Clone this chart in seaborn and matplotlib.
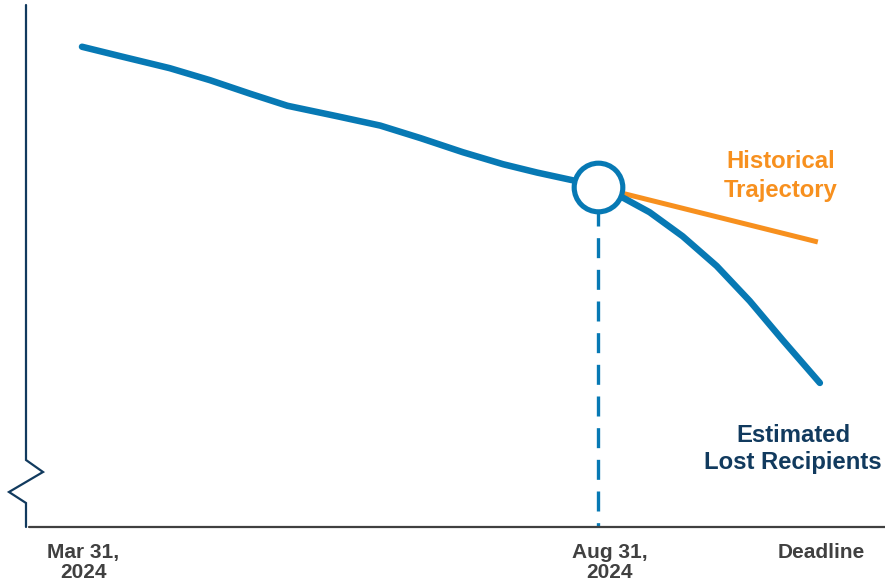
import numpy as np
import pandas as pd
import matplotlib
matplotlib.use("Agg")
import matplotlib.pyplot as plt
import seaborn as sns
from matplotlib.lines import Line2D

# ---------------- data ----------------
hist_months = [0.0, 0.37, 0.85, 1.24, 1.63, 1.99, 2.47, 2.89, 3.28, 3.69, 4.08, 4.41, 4.76, 5.0]
hist_values = [92.0, 90.2, 87.9, 85.6, 83.0, 80.7, 78.7, 76.9, 74.5, 71.8, 69.5, 67.9, 66.4, 65.1]

est_months = [5.0, 5.25, 5.50, 5.82, 6.15, 6.47, 6.79, 7.15]
est_values = [65.1, 63.0, 60.3, 55.7, 50.0, 43.3, 35.8, 27.6]

traj_months = [5.0, 7.13]
traj_values = [65.1, 54.6]

marker_month = [5.0]
marker_value = [65.1]

tick_positions = [0.01, 5.11, 7.16]
tick_labels = ["Mar 31,\n2024", "Aug 31,\n2024", "Deadline"]

# ---------------- style ----------------
BLUE = "#0779b4"
ORANGE = "#f7901e"
NAVY = "#113a5e"
GRAY = "#404040"

sns.set_style("white")
plt.rcParams["font.family"] = ["Liberation Sans", "DejaVu Sans"]

fig = plt.figure(figsize=(8.85, 5.86), dpi=100)
ax = fig.add_axes([0, 0, 1, 1])

# pixel mapping: x px = 82 + 103.2*month ; y px = 527 - 5.22*value
ax.set_xlim(-82 / 103.2, (885 - 82) / 103.2)
ax.set_ylim((527 - 586) / 5.22, 527 / 5.22)

df_hist = pd.DataFrame({"month": hist_months, "value": hist_values})
df_est = pd.DataFrame({"month": est_months, "value": est_values})
df_traj = pd.DataFrame({"month": traj_months, "value": traj_values})

sns.lineplot(data=df_traj, x="month", y="value", color=ORANGE, lw=3.6, ax=ax,
             solid_capstyle="butt", zorder=2)
sns.lineplot(data=df_hist, x="month", y="value", color=BLUE, lw=4.7, ax=ax,
             solid_capstyle="round", solid_joinstyle="round", zorder=3)
sns.lineplot(data=df_est, x="month", y="value", color=BLUE, lw=4.7, ax=ax,
             solid_capstyle="round", solid_joinstyle="round", zorder=3)

# dashed drop line from the marker to the x axis
ax.plot([marker_month[0], marker_month[0]], [marker_value[0] - 4.5, 0],
        color=BLUE, lw=2.4, ls=(1.5, (6, 3.5)), zorder=2)

# hollow circle marker
ax.scatter(marker_month, marker_value, s=35 ** 2, facecolor="white",
           edgecolor=BLUE, linewidth=3.7, zorder=5)

# ---------------- axes (custom with break) ----------------
for s in ax.spines.values():
    s.set_visible(False)
ax.set_yticks([])
ax.set_xticks(tick_positions)
ax.set_xticklabels(tick_labels, fontsize=15, fontweight="bold", color=GRAY,
                   linespacing=1.1)
ax.tick_params(axis="x", length=0, pad=-31, direction="in")
for lbl in ax.get_xticklabels():
    lbl.set_multialignment("center")
    lbl.set_verticalalignment("top")

W, H = 885.0, 586.0
def fx(px):
    return px / W
def fy(py):
    return 1 - py / H

# x axis line
fig.add_artist(Line2D([fx(29), fx(885)], [fy(527), fy(527)], color=GRAY, lw=1.6))
# y axis with zigzag break
ys = [5, 460, 472, 492, 503, 527]
xs = [26, 26, 43, 9, 26, 26]
fig.add_artist(Line2D([fx(x) for x in xs], [fy(y) for y in ys], color=NAVY, lw=1.6,
                      solid_joinstyle="miter"))

# annotations
ax.text((781 - 82) / 103.2, (527 - 176) / 5.22, "Historical\nTrajectory",
        color=ORANGE, fontsize=17.2, fontweight="bold", ha="center", va="center",
        linespacing=1.36)
ax.text((793 - 82) / 103.2, (527 - 449) / 5.22, "Estimated\nLost Recipients",
        color=NAVY, fontsize=17.2, fontweight="bold", ha="center", va="center",
        linespacing=1.27)

ax.set_xlabel("")
ax.set_ylabel("")
fig.savefig("out.png", dpi=100)
